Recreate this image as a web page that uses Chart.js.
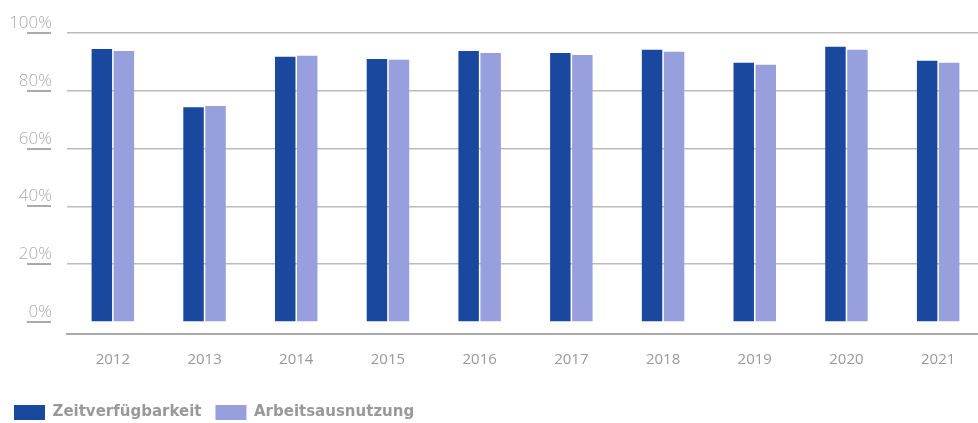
<!DOCTYPE html>
<html>
<head>
<meta charset="utf-8">
<script src="https://cdn.jsdelivr.net/npm/chart.js@4/dist/chart.umd.min.js"></script>
<style>
html,body{margin:0;padding:0;background:#fff;overflow:hidden;}
#wrap{width:984px;height:430px;position:relative;}
</style>
</head>
<body>
<div id="wrap"><canvas id="c"></canvas></div>
<script>
const categories = ['2012','2013','2014','2015','2016','2017','2018','2019','2020','2021'];
const zeitverfuegbarkeit = [94.5, 74.3, 91.8, 91.0, 93.8, 93.1, 94.2, 89.7, 95.2, 90.4];
const arbeitsausnutzung = [93.8, 74.7, 92.1, 90.7, 93.1, 92.4, 93.5, 89.0, 94.2, 89.7];
const yTickValues = [0, 20, 40, 60, 80, 100];
const yTickLabels = ['0%', '20%', '40%', '60%', '80%', '100%'];

const yLabelPlugin = {
  id: 'yLabels',
  afterDraw(chart) {
    const ctx = chart.ctx;
    const y = chart.scales.y;
    ctx.save();
    yTickValues.forEach((v, i) => {
      const py = Math.round(y.getPixelForValue(v));
      ctx.strokeStyle = '#aaaaaa';
      ctx.lineWidth = 2;
      ctx.beginPath();
      ctx.moveTo(27, py);
      ctx.lineTo(51, py);
      ctx.stroke();
      ctx.fillStyle = '#aaaaaa';
      ctx.font = '300 17px "Open Sans", sans-serif';
      ctx.textAlign = 'right';
      ctx.textBaseline = 'alphabetic';
      ctx.fillText(yTickLabels[i], 52, py - 5);
    });
    ctx.restore();
  }
};

new Chart(document.getElementById('c'), {
  type: 'bar',
  data: {
    labels: categories,
    datasets: [
      { label: 'Zeitverfügbarkeit', data: zeitverfuegbarkeit, backgroundColor: '#19489e',
        categoryPercentage: 0.48, barPercentage: 0.93 },
      { label: 'Arbeitsausnutzung', data: arbeitsausnutzung, backgroundColor: '#97a0dc',
        categoryPercentage: 0.48, barPercentage: 0.93 }
    ]
  },
  options: {
    responsive: true,
    maintainAspectRatio: false,
    animation: false,
    layout: { padding: { left: 0, top: 33, right: 0, bottom: 0 } },
    plugins: {
      tooltip: { enabled: false },
      legend: {
        position: 'bottom',
        align: 'start',
        labels: {
          boxWidth: 31,
          boxHeight: 15,
          padding: 14,
          color: '#999999',
          font: { family: '"DejaVu Sans", sans-serif', size: 15, weight: 'bold' }
        }
      }
    },
    scales: {
      x: {
        afterFit(scale) { scale.height += 5.5; },
        grid: { display: false, drawTicks: false },
        border: { display: true, color: '#aaaaaa', width: 2 },
        ticks: { color: '#999999', padding: 17, font: { family: '"Open Sans", sans-serif', size: 15 } }
      },
      y: {
        min: -4,
        max: 100,
        afterFit(scale) { scale.width = 67; },
        afterBuildTicks(scale) { scale.ticks = yTickValues.map(v => ({ value: v })); },
        ticks: { display: false },
        grid: {
          drawTicks: false,
          lineWidth: 1.5,
          color: ctx => (ctx.tick && ctx.tick.value === 0) ? 'rgba(0,0,0,0)' : '#bbbbbb'
        },
        border: { display: false }
      }
    }
  },
  plugins: [yLabelPlugin]
});
</script>
</body>
</html>
